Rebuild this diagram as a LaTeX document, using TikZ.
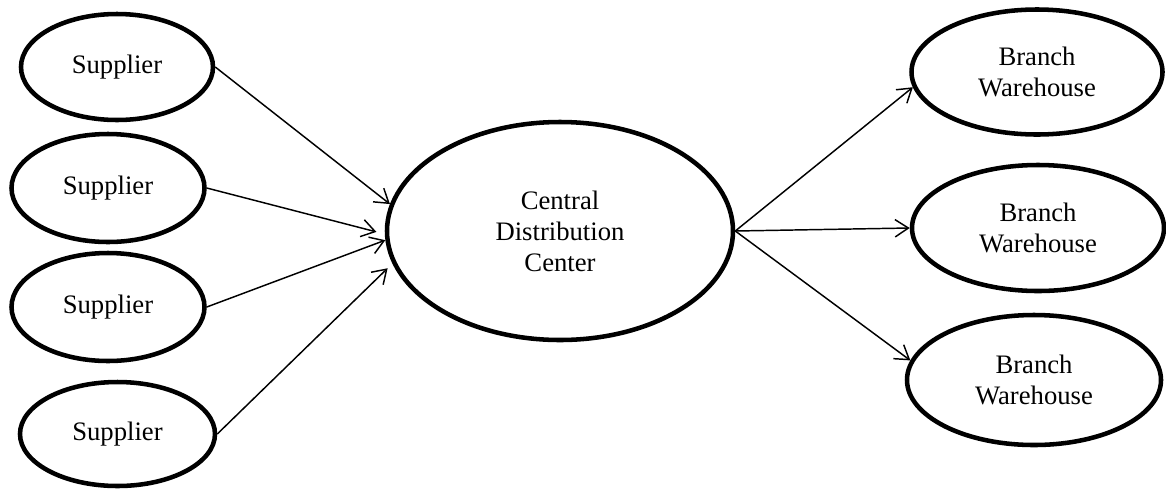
\documentclass[tikz,border=0pt]{standalone}
\usepackage{fontspec}
\setmainfont{Liberation Serif}
\usetikzlibrary{arrows.meta,shapes.geometric}
\begin{document}
\begin{tikzpicture}[x=0.75pt,y=-0.75pt,
  oval/.style={draw=black,line width=3.4pt,ellipse,inner sep=0pt,align=center,
    font=\fontsize{20pt}{23.25pt}\selectfont},
  flow/.style={line width=1.1pt,-{Straight Barb[length=10pt,width=13pt,line width=1.1pt]}}]
\useasboundingbox (0,0) rectangle (1166,490);
\node[oval,minimum width=192*0.75pt,minimum height=106*0.75pt] (s1) at (117,67) {Supplier};
\node[oval,minimum width=193*0.75pt,minimum height=108*0.75pt] (s2) at (108,188) {Supplier};
\node[oval,minimum width=193*0.75pt,minimum height=108*0.75pt] (s3) at (108,307) {Supplier};
\node[oval,minimum width=195*0.75pt,minimum height=104*0.75pt] (s4) at (117.5,434) {Supplier};
\node[oval,minimum width=346*0.75pt,minimum height=218*0.75pt] (c) at (560,231) {Central\\Distribution\\Center};
\node[oval,minimum width=251*0.75pt,minimum height=125*0.75pt] (b1) at (1037,72) {Branch\\Warehouse};
\node[oval,minimum width=252*0.75pt,minimum height=126*0.75pt] (b2) at (1038,228) {Branch\\Warehouse};
\node[oval,minimum width=254*0.75pt,minimum height=130*0.75pt] (b3) at (1034,380) {Branch\\Warehouse};
\draw[flow] (s1.east) -- (c.171.5);
\draw[flow,shorten >=6.5pt] (s2.east) -- (c.181);
\draw[flow] (s3.east) -- (c.183.6);
\draw[flow,shorten >=5pt] (s4.east) -- (c.191.7);
\draw[flow] (c.east) -- (b1.187.3);
\draw[flow] (c.east) -- (b2.west);
\draw[flow] (c.east) -- (b3.171.2);
\end{tikzpicture}
\end{document}
